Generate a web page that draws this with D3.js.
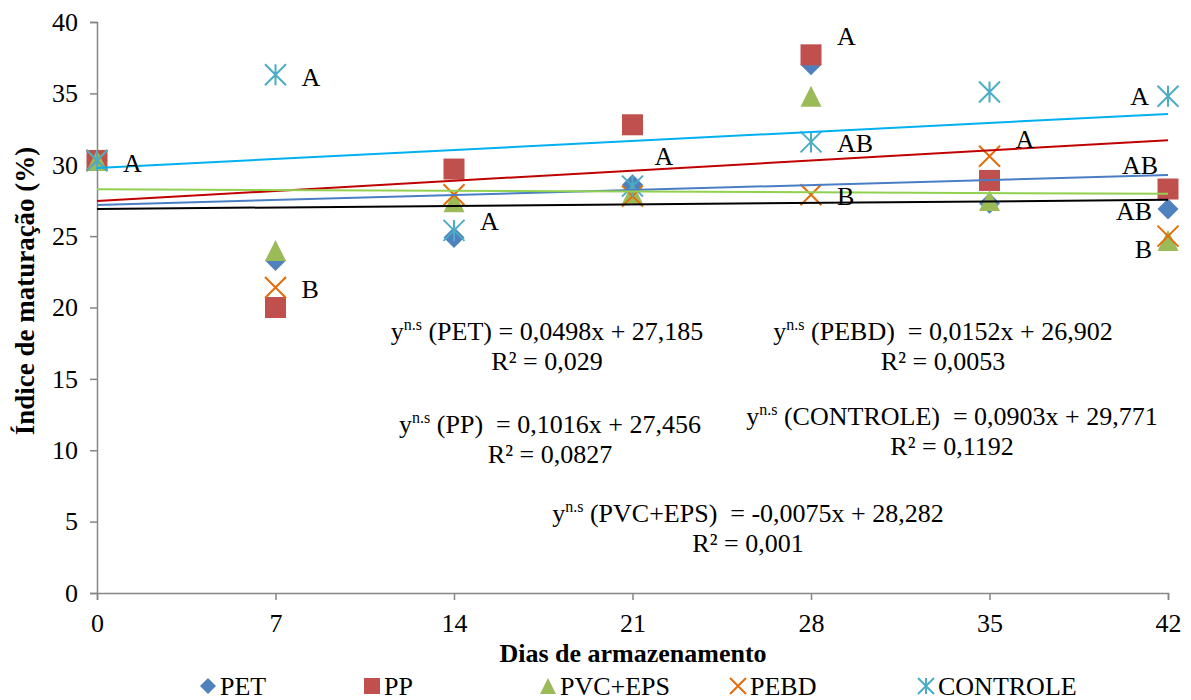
<!DOCTYPE html>
<html>
<head>
<meta charset="utf-8">
<script src="https://cdn.jsdelivr.net/npm/d3@7"></script>
<style>
  html, body { margin: 0; padding: 0; background: #fff; }
  svg, svg text { font-family: "Liberation Serif", "Times New Roman", Times, serif; }
</style>
</head>
<body>
<svg id="chart" width="1191" height="700"></svg>
<script>
// ---- data ----
const days = [0, 7, 14, 21, 28, 35, 42];
const seriesNames = ["PET", "PP", "PVC+EPS", "PEBD", "CONTROLE"];
const pet      = [30.3, 23.3, 24.9, 28.6, 37.0, 27.3, 26.9];
const pp       = [30.3, 20.0, 29.7, 32.8, 37.7, 28.9, 28.3];
const pvc      = [30.3, 24.0, 27.4, 28.0, 34.8, 27.5, 24.7];
const pebd     = [30.3, 21.4, 27.9, 27.8, 27.9, 30.6, 25.0];
const controle = [30.3, 36.3, 25.4, 28.5, 31.6, 35.1, 34.8];
const slopes     = [0.0498, 0.1016, -0.0075, 0.0152, 0.0903];
const intercepts = [27.185, 27.456, 28.282, 26.902, 29.771];
const eqNames  = ["(PET) = 0,0498x + 27,185", "(PP)\u00A0 = 0,1016x + 27,456", "(PVC+EPS)\u00A0 = -0,0075x + 28,282", "(PEBD)\u00A0 = 0,0152x + 26,902", "(CONTROLE)\u00A0 = 0,0903x + 29,771"];
const r2Labels = ["R² = 0,029", "R² = 0,0827", "R² = 0,001", "R² = 0,0053", "R² = 0,1192"];
const yTicks = [0, 5, 10, 15, 20, 25, 30, 35, 40];
const xTicks = [0, 7, 14, 21, 28, 35, 42];
// letter annotations: day, value (baseline in y units), text
const letterDays   = [0, 7, 7, 14, 21, 28, 28, 28, 35, 42, 42, 42, 42];
const letterValues = [29.5, 35.5, 20.7, 25.4, 30.0, 38.4, 30.9, 27.2, 31.2, 34.2, 29.35, 26.1, 23.5];
const letterTexts  = ["A", "A", "B", "A", "A", "A", "AB", "B", "A", "A", "AB", "AB", "B"];

const allValues = [pet, pp, pvc, pebd, controle];
const markerColors = ["#4F81BD", "#C0504D", "#9BBB59", "#E46C0A", "#4BACC6"];
const trendColors  = ["#4A7EC4", "#C00000", "#92D050", "#000000", "#00B0F0"];
const shapes = ["diamond", "square", "triangle", "x", "star"];

// ---- layout ----
const FONT = "'Liberation Serif', 'Times New Roman', Times, serif";
const svg = d3.select("#chart");
const x = d3.scaleLinear().domain([0, 42]).range([97, 1168]);
const y = d3.scaleLinear().domain([0, 40]).range([593, 22]);
const axisColor = "#868686";
const FS = 26;

function drawMarker(g, shape, color, s) {
  const h = s / 2;
  if (shape === "diamond") {
    g.append("path").attr("d", `M0,${-h}L${h},0L0,${h}L${-h},0Z`).attr("fill", color);
  } else if (shape === "square") {
    g.append("rect").attr("x", -h).attr("y", -h).attr("width", s).attr("height", s).attr("fill", color);
  } else if (shape === "triangle") {
    g.append("path").attr("d", `M0,${-h}L${h},${h}L${-h},${h}Z`).attr("fill", color);
  } else if (shape === "x") {
    g.append("path").attr("d", `M${-h},${-h}L${h},${h}M${h},${-h}L${-h},${h}`)
      .attr("stroke", color).attr("stroke-width", 2).attr("fill", "none");
  } else if (shape === "star") {
    g.append("path").attr("d", `M${-h},${-h}L${h},${h}M${h},${-h}L${-h},${h}M0,${-h}L0,${h}`)
      .attr("stroke", color).attr("stroke-width", 2).attr("fill", "none");
  }
}

// axes
const yAxis = d3.axisLeft(y).tickValues(yTicks).tickSize(7).tickPadding(12).tickFormat(d3.format("d"));
const gy = svg.append("g").attr("transform", `translate(${x(0)},0)`).call(yAxis);
const xAxis = d3.axisBottom(x).tickValues(xTicks).tickSize(7).tickPadding(14).tickFormat(d3.format("d"));
const gx = svg.append("g").attr("transform", `translate(0,${y(0)})`).call(xAxis);
[gx, gy].forEach(g => {
  g.attr("font-family", FONT).attr("font-size", FS);
  g.select(".domain").attr("stroke", axisColor).attr("stroke-width", 1.5);
  g.selectAll(".tick line").attr("stroke", axisColor).attr("stroke-width", 1.5);
  g.selectAll(".tick text").attr("fill", "#000").style("font-family", FONT).style("font-size", FS + "px");
});

// axis titles
svg.append("text").attr("x", 633).attr("y", 662).attr("text-anchor", "middle")
  .style("font-family", FONT).attr("font-size", FS).attr("font-weight", "bold").text("Dias de armazenamento");
svg.append("text").attr("transform", "translate(34,291) rotate(-90)").attr("text-anchor", "middle")
  .style("font-family", FONT).attr("font-size", 27).attr("font-weight", "bold").text("Índice de maturação (%)");

// markers
allValues.forEach((vals, si) => {
  vals.forEach((v, i) => {
    const g = svg.append("g").attr("transform", `translate(${x(days[i])},${y(v)})`);
    drawMarker(g, shapes[si], markerColors[si], 21);
  });
});

// trend lines
slopes.forEach((m, si) => {
  svg.append("line")
    .attr("x1", x(0)).attr("y1", y(intercepts[si]))
    .attr("x2", x(42)).attr("y2", y(intercepts[si] + m * 42))
    .attr("stroke", trendColors[si]).attr("stroke-width", 2);
});

// letters
let endCount = 0;
const endDx = [-19, -10, -16, -16];
letterTexts.forEach((t, i) => {
  const d = letterDays[i];
  const end = d === 42;
  let dx = 26;
  if (end) dx = endDx[endCount++];
  else if (d === 21) dx = 22;
  svg.append("text").attr("x", x(d) + dx).attr("y", y(letterValues[i]))
    .attr("text-anchor", end ? "end" : "start").style("font-family", FONT).attr("font-size", FS).text(t);
});

// equations
const eqPos = [[547, 340], [550, 433], [748, 522], [943, 340], [952, 425]];
eqNames.forEach((e, i) => {
  const [cx, by] = eqPos[i];
  const t = svg.append("text").attr("x", cx).attr("y", by).attr("text-anchor", "middle")
    .style("font-family", FONT).attr("font-size", FS);
  t.append("tspan").text("y");
  t.append("tspan").attr("font-size", 16).attr("dy", -10).text("n.s");
  t.append("tspan").attr("dy", 10).text("\u00A0" + e);
  svg.append("text").attr("x", cx).attr("y", by + 30).attr("text-anchor", "middle")
    .style("font-family", FONT).attr("font-size", FS).text(r2Labels[i]);
});

// legend
const legX = [208, 372, 548, 738, 926];
seriesNames.forEach((n, i) => {
  const g = svg.append("g").attr("transform", `translate(${legX[i]},686)`);
  drawMarker(g, shapes[i], markerColors[i], 16);
  svg.append("text").attr("x", legX[i] + 12).attr("y", 695)
    .style("font-family", FONT).attr("font-size", FS).text(n);
});
</script>
</body>
</html>
